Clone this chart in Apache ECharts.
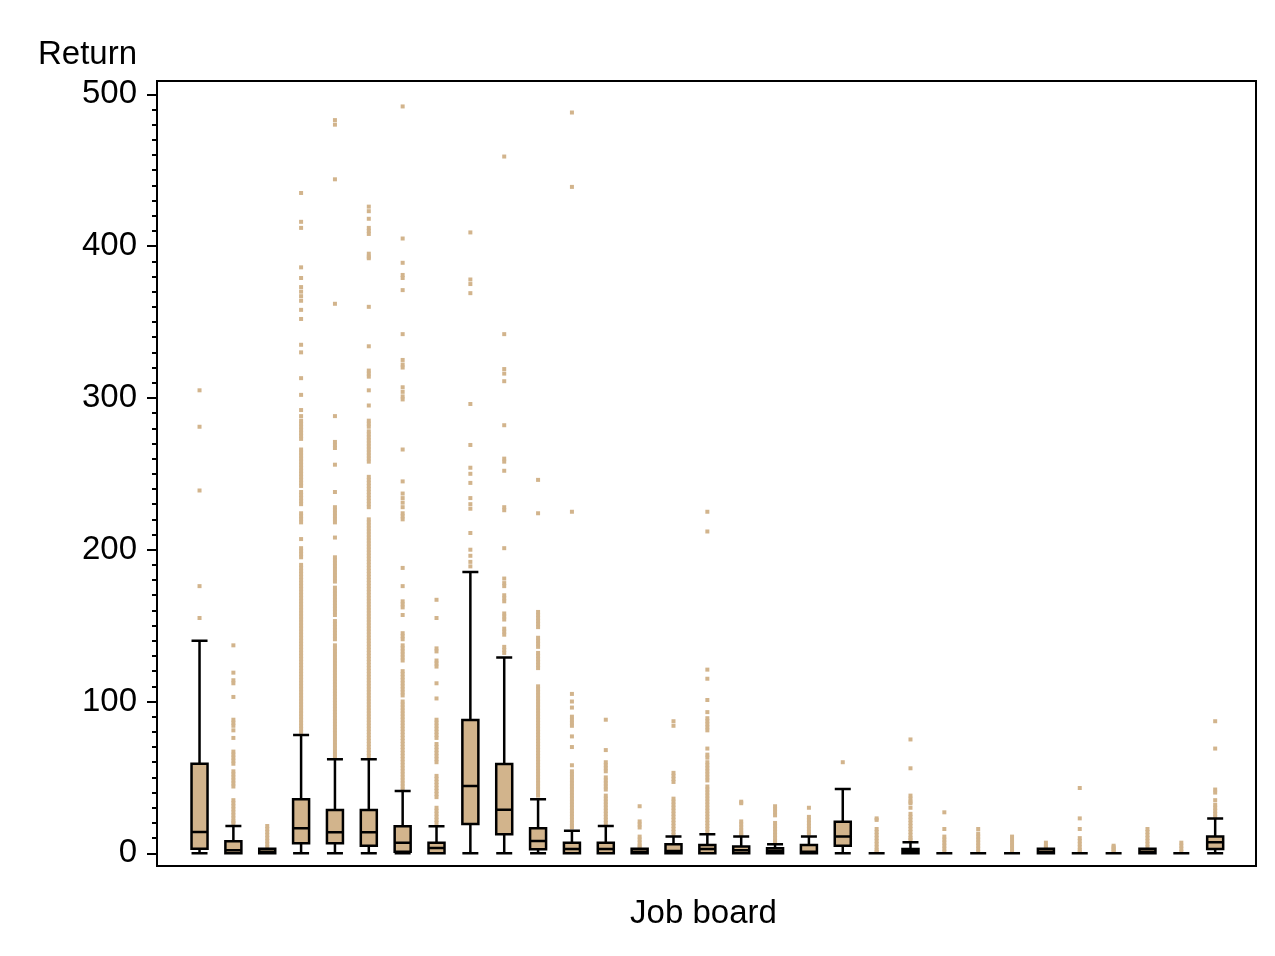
<!DOCTYPE html>
<html>
<head>
<meta charset="utf-8">
<script src="https://cdn.jsdelivr.net/npm/echarts/dist/echarts.min.js"></script>
<style>
  html, body { margin: 0; padding: 0; background: #ffffff; }
  #chart { width: 1275px; height: 956px; }
</style>
</head>
<body>
<div id="chart"></div>
<script>
// ---- Data ----
const categories = ['B1','B2','B3','B4','B5','B6','B7','B8','B9','B10','B11','B12','B13','B14','B15','B16',
  'B17','B18','B19','B20','B21','B22','B23','B24','B25','B26','B27','B28','B29','B30','B31'];

const boxMin    = [0,0,0,0,0,0,0,0,0,0,0,0,0,0,0,0,0,0,0,0,0,0,0,0,0,0,0,0,0,0,0];
const boxQ1     = [3,0,0,6.6,6.6,5,1,0,19.3,12.5,2.6,0,0,0,0,0,0,0,0,5,0,0,0,0,0,0,0,0,0,0,2.8];
const boxMedian = [14,2,1,16.5,13.8,13.8,7,3.5,44.3,28.7,8.1,2.8,2.8,1,1.5,2.8,2,1.5,1,11,0,1.5,0,0,0,1,0,0,1,0,7.2];
const boxQ3     = [59,8,3,35.6,28.5,28.5,17.8,7,87.8,58.8,16.5,7,7,3,6,5.5,4.4,3.3,5.5,20.8,0,2.8,0,0,0,3,0,0,3,0,11];
const boxMax    = [140,18,3,78,62,62,41,17.8,185.3,129,35.6,14.9,18,3,11,12.5,11,6,11,42.3,0,7.2,0,0,0,3,0,0,3,0,23];

const outliers = [
  [305,281,239,176,155],
  [137,119,114,112,103,88,86,84,81,76,67,65,63,61,59,54,52,50,48,46,44,35,33,31,29,27,25,23,21,20],
  [18,16,14,12,10,8,6,4],
  [435,416,412,386,379,373,370,367,364,358,352,335,330,313,302,292,288,285,283,281,279,277,275,273,266,264,262,260,258,256,254,252,250,248,246,244,242,238,236,234,232,230,224,222,220,218,207,201,199,197,195,190,188,186,184,182,180,178,176,174,172,170,168,166,164,162,160,158,156,154,152,150,148,146,144,142,140,138,136,134,132,130,128,126,124,122,120,118,116,114,112,110,108,106,104,102,100,98,96,94,92,90,88,86,84,82,80],
  [483,480,444,362,288,271,269,267,256,238,228,226,224,222,220,218,208,195,193,191,189,187,185,183,181,179,175,173,171,169,167,165,163,161,159,157,153,151,149,147,145,143,141,137,135,133,131,129,127,125,123,121,119,117,115,113,111,109,107,105,103,101,99,97,95,93,91,89,87,85,83,81,79,77,75,73,71,69,67,65,63],
  [426,423,418,412,410,408,395,393,392,360,334,318,316,314,305,295,285,283,281,278,276,274,272,270,268,266,264,262,260,258,248,246,244,242,240,238,236,234,232,230,228,220,218,216,214,212,210,208,206,204,202,200,198,196,194,192,190,188,186,184,182,180,178,176,174,172,170,168,166,164,162,160,158,156,154,152,150,148,146,144,142,140,138,136,134,132,130,128,126,124,122,120,118,116,114,112,110,108,106,104,102,100,98,96,94,92,90,88,86,84,82,80,78,76,74,72,70,68,66,64],
  [492,405,389,381,379,371,342,325,322,320,307,304,301,299,266,245,237,234,231,228,224,222,220,188,176,166,164,162,157,145,143,141,137,135,133,131,129,127,120,118,116,114,112,110,108,106,104,100,98,96,94,92,90,88,86,84,82,80,78,76,74,72,70,68,66,64,62,60,58,56,54,52,50,48,46,44,42],
  [167,155,135,133,127,125,123,112,102,88,86,84,82,80,78,76,72,70,68,66,64,62,60,51,49,47,45,43,41,39,37,30,28,26,24,22,20],
  [409,378,375,369,296,269,254,250,244,234,230,227,211,200,196,192,189],
  [459,342,319,316,311,282,260,258,252,228,226,201,181,178,176,170,168,166,158,156,154,148,146,144,136,134,132],
  [246,224,159,157,155,153,151,149,142,140,138,136,132,130,128,126,124,122,110,108,106,104,102,100,98,96,94,92,90,88,86,84,82,80,78,76,74,72,70,68,66,64,62,60,58,56,54,52,50,48,46,44,42,40,38],
  [488,439,225,105,100,96,90,88,86,84,77,70,58,54,52,50,48,46,44,42,40,38,36,34,32,30,28,26,24,22,20,18,17],
  [88,68,60,58,56,54,50,48,46,44,42,38,36,34,32,30,28,26,24,22,20],
  [31,21,19,17,11,9,7,5,4],
  [87,84,53,51,49,47,36,34,32,30,28,26,24,22,20,18,16,14,12],
  [225,212,121,115,101,93,89,87,85,83,81,69,65,63,60,58,56,54,52,50,48,44,42,40,38,36,34,32,30,28,26,24,22,20,18,16,14],
  [34,33,21,19,17,15,13,12],
  [31,29,27,25,20,18,16,14,12,10,8,7],
  [30,24,22,20,18,16,14,13],
  [60],
  [23,22,16,14,12,10,8,6,4,2,1],
  [75,56,38,36,34,33,30,26,24,22,20,18,16,14,12,10,9],
  [27,16,11,9,7,5,3,1],
  [16,13,11,9,7,5,3,1],
  [11,9,7,5,3,1],
  [7,5,4],
  [43,23,16,10,8,6,4,2,1],
  [5,4,3,2,1],
  [16,14,12,10,8,6,4],
  [7,5,3,1],
  [87,69,42,40,35,32,30,28,26,24]
];

const yTicks = { min: 0, max: 500, step: 100 };
const yTitle = 'Return';
const xTitle = 'Job board';

// ---- Build library structures ----
const boxData = categories.map((c, i) => [boxMin[i], boxQ1[i], boxMedian[i], boxQ3[i], boxMax[i]]);
const outlierPoints = [];
outliers.forEach((vals, i) => vals.forEach(v => outlierPoints.push([i, v])));

const FONT = '"Liberation Sans", Arial, Helvetica, sans-serif';
const TAN = '#D2B48C';

const chart = echarts.init(document.getElementById('chart'), null, { renderer: 'canvas' });
chart.setOption({
  animation: false,
  backgroundColor: '#ffffff',
  textStyle: { fontFamily: FONT },
  title: {
    text: yTitle, left: 33, top: 33,
    textStyle: { fontSize: 33, fontWeight: 'normal', color: '#000', fontFamily: FONT }
  },
  grid: [
    { left: 157, top: 81, width: 1099, height: 785, show: true, borderColor: '#000', borderWidth: 2, backgroundColor: '#fff' },
    { left: 182.6, top: 94.3, width: 1049.5, height: 759 }
  ],
  xAxis: [
    { gridIndex: 0, type: 'value', min: 0, max: 1,
      axisLine: { show: false }, axisTick: { show: false }, axisLabel: { show: false }, splitLine: { show: false },
      name: xTitle, nameLocation: 'middle', nameGap: 31,
      nameTextStyle: { fontSize: 33, color: '#000', fontFamily: FONT, padding: [0, 6, 0, 0] } },
    { gridIndex: 1, type: 'category', data: categories, boundaryGap: true,
      axisLine: { show: false }, axisTick: { show: false }, axisLabel: { show: false }, splitLine: { show: false } }
  ],
  yAxis: [
    { gridIndex: 0, type: 'value', min: 0, max: 1, show: false },
    { gridIndex: 1, type: 'value', min: yTicks.min, max: yTicks.max, interval: yTicks.step, offset: 25.6,
      axisLine: { show: false },
      axisTick: { show: true, length: 10, lineStyle: { color: '#000', width: 2 } },
      minorTick: { show: true, splitNumber: 10, length: 5, lineStyle: { color: '#000', width: 2 } },
      axisLabel: { fontSize: 33, color: '#000', margin: 20, fontFamily: FONT },
      splitLine: { show: false }, minorSplitLine: { show: false } }
  ],
  series: [
    { type: 'scatter', xAxisIndex: 1, yAxisIndex: 1, data: outlierPoints, symbol: 'rect', symbolSize: [4, 4],
      itemStyle: { color: TAN, opacity: 1 }, silent: true, z: 2 },
    { type: 'boxplot', xAxisIndex: 1, yAxisIndex: 1, data: boxData, boxWidth: [16, 16],
      itemStyle: { color: TAN, borderColor: '#000', borderWidth: 2.5 }, silent: true, z: 3 }
  ]
});
</script>
</body>
</html>
